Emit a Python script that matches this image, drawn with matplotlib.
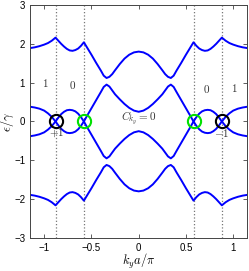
import matplotlib.pyplot as plt
import numpy as np

plt.rcParams['font.family'] = 'Liberation Sans'
plt.rcParams['mathtext.fontset'] = 'cm'

# band energies for ky >= 0 (plot is symmetric in ky and in energy)
ky_half = [0, 0.05, 0.1, 0.15, 0.2, 0.25, 0.28, 0.31, 0.34, 0.37, 0.4, 0.45, 0.5, 0.55,
           0.58, 0.61, 0.64, 0.67, 0.70, 0.73, 0.76, 0.79, 0.82, 0.85,
           0.88, 0.92, 0.96, 1.0, 1.05, 1.1, 1.15]
band_top = [1.80, 1.78, 1.72, 1.62, 1.48, 1.32, 1.22, 1.15, 1.12, 1.18, 1.31, 1.51, 1.72, 1.92,
            2.04, 1.95, 1.88, 1.84, 1.82, 1.83, 1.87, 1.93, 2.00, 2.08,
            2.16, 2.08, 2.02, 1.98, 1.94, 1.91, 1.89]
band_mid = [0.25, 0.28, 0.35, 0.45, 0.57, 0.70, 0.80, 0.90, 0.95, 0.89, 0.76, 0.55, 0.34, 0.13,
            0.0, 0.11, 0.20, 0.26, 0.29, 0.30, 0.29, 0.25, 0.19, 0.10,
            0.0, 0.12, 0.21, 0.28, 0.33, 0.36, 0.38]

# Weyl-like touching points
k_outer = 0.88
k_inner = 0.58

ky_half = np.array(ky_half)
ky = np.concatenate([-ky_half[::-1], ky_half[1:]])
top = np.concatenate([np.array(band_top)[::-1], np.array(band_top)[1:]])
mid = np.concatenate([np.array(band_mid)[::-1], np.array(band_mid)[1:]])

fig = plt.figure(figsize=(2.49, 2.71), dpi=100)
ax = fig.add_axes([0.1205, 0.122, 0.873, 0.8595])

for b in [top, mid, -mid, -top]:
    ax.plot(ky, b, color='#0000ff', lw=1.4)

for k in [-k_outer, -k_inner, k_inner, k_outer]:
    ax.axvline(k, color='#777777', ls=':', lw=0.9, zorder=0)

ax.plot([-k_outer, k_outer], [0, 0], 'o', ms=9.5, mfc='none', mec='black', mew=1.5)
ax.plot([-k_inner, k_inner], [0, 0], 'o', ms=9.5, mfc='none', mec='#00e000', mew=1.5)

tc = '#333333'
ax.text(-0.99, 1.0, r'$1$', color=tc, fontsize=8, ha='center', va='center')
ax.text(-0.70, 0.95, r'$0$', color=tc, fontsize=8, ha='center', va='center')
ax.text(0.72, 0.84, r'$0$', color=tc, fontsize=8, ha='center', va='center')
ax.text(1.01, 0.85, r'$1$', color=tc, fontsize=8, ha='center', va='center')
ax.text(-0.87, -0.3, r'$+1$', color=tc, fontsize=8, ha='center', va='center')
ax.text(0.88, -0.3, r'$-1$', color=tc, fontsize=8, ha='center', va='center')
ax.text(0.0, 0.08, r'$C_{k_y}=0$', color=tc, fontsize=8, ha='center', va='center')

ax.set_xlim(-1.15, 1.15)
ax.set_ylim(-3, 3)
ax.set_xticks([-1, -0.5, 0, 0.5, 1])
ax.set_xticklabels(['\u22121', '\u22120.5', '0', '0.5', '1'])
ax.set_yticks([-3, -2, -1, 0, 1, 2, 3])
ax.tick_params(direction='in', top=True, right=True, labelsize=7, length=3, width=0.6, color='#444444')
for s in ax.spines.values():
    s.set_color('#444444')
    s.set_linewidth(0.7)

ax.set_xlabel(r'$k_y a/\pi$', fontsize=9)
ax.set_ylabel(r'$\epsilon/\gamma$', fontsize=9)
ax.yaxis.set_label_coords(-0.065, 0.5)
ax.xaxis.set_label_coords(0.5, -0.062)

plt.savefig('out.png', dpi=100)
